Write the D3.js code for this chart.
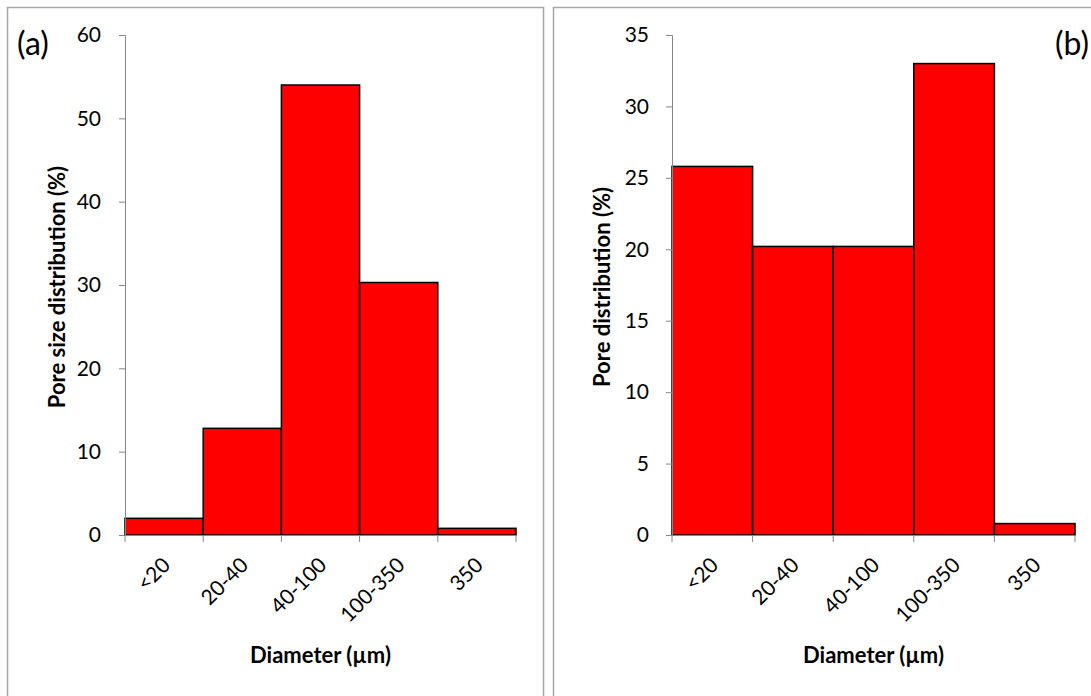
<!DOCTYPE html>
<html>
<head>
<meta charset="utf-8">
<script src="https://cdn.jsdelivr.net/npm/d3@7"></script>
<style>
  body { margin: 0; background: #fff; }
  svg { display: block; font-family: Lato, "Open Sans", sans-serif; }
</style>
</head>
<body>
<svg width="1091" height="696"></svg>
<script>
// data
var categories = ["<20", "20-40", "40-100", "100-350", "350"];
var valuesA = [2.0, 12.8, 54.0, 30.3, 0.8];
var valuesB = [25.8, 20.2, 20.2, 33.0, 0.8];
var ticksA = [0, 10, 20, 30, 40, 50, 60];
var ticksB = [0, 5, 10, 15, 20, 25, 30, 35];

var svg = d3.select("svg");
var axisColor = "#868686";

function panel(opt) {
  // frame around each chart
  svg.append("rect")
    .attr("x", opt.frame[0] + 0.5).attr("y", 7.5)
    .attr("width", opt.frame[1] - opt.frame[0]).attr("height", 700)
    .attr("fill", "none").attr("stroke", "#a6a6a6").attr("stroke-width", 1.5);

  var x = d3.scaleBand().domain(categories).range([opt.x0, opt.x1]).padding(0);
  var y = d3.scaleLinear().domain([0, opt.max]).range([535, 35]);

  var g = svg.append("g");

  g.selectAll("rect.bar").data(opt.values).enter().append("rect")
    .attr("class", "bar")
    .attr("x", function(d, i) { return x(categories[i]); })
    .attr("y", function(d) { return y(d); })
    .attr("width", x.bandwidth())
    .attr("height", function(d) { return y(0) - y(d); })
    .attr("fill", "#ff0000").attr("stroke", "#000").attr("stroke-width", 1.5);

  // y axis
  var ya = g.append("g").attr("transform", "translate(" + opt.x0 + ",0)")
    .call(d3.axisLeft(y).tickValues(opt.ticks).tickSize(6).tickPadding(opt.pad));
  ya.select(".domain").attr("stroke", axisColor).attr("d", "M-6,35.5H0.5V535.5");
  ya.selectAll(".tick line").attr("stroke", axisColor);
  ya.selectAll(".tick text").attr("font-size", 21).attr("fill", "#000").attr("font-family", "Lato, sans-serif");

  // x axis with ticks at the bin edges
  var xa = g.append("g").attr("transform", "translate(0,535)");
  xa.append("line").attr("x1", opt.x0).attr("x2", opt.x1).attr("y1", 0.5).attr("y2", 0.5).attr("stroke", axisColor);
  var edges = categories.map(function(c) { return x(c); }).concat([opt.x1]);
  xa.selectAll("line.tk").data(edges).enter().append("line")
    .attr("class", "tk")
    .attr("x1", function(d) { return d; }).attr("x2", function(d) { return d; })
    .attr("y1", 0).attr("y2", 7).attr("stroke", axisColor);
  xa.selectAll("text").data(categories).enter().append("text")
    .attr("transform", function(c) { return "translate(" + (x(c) + x.bandwidth() / 2 - 3) + ",21) rotate(-45)"; })
    .attr("text-anchor", "end").attr("dy", "0.7em")
    .attr("font-size", 21).attr("fill", "#000")
    .text(function(c) { return c; });

  // titles
  svg.append("text").attr("x", (opt.x0 + opt.x1) / 2).attr("y", 663)
    .attr("text-anchor", "middle").attr("font-size", 22).attr("font-weight", "bold")
    .text("Diameter (µm)");
  svg.append("text").attr("transform", "translate(" + opt.ylabX + ",287) rotate(-90)")
    .attr("text-anchor", "middle").attr("dy", "0.35em").attr("font-size", 22).attr("font-weight", "bold")
    .text(opt.ylab);
  svg.append("text").attr("x", opt.tagX).attr("y", 55).attr("font-size", 32)
    .text(opt.tag);
}

panel({ frame: [7, 543], x0: 125, x1: 516, max: 60, values: valuesA, ticks: ticksA, pad: 18,
  ylab: "Pore size distribution (%)", ylabX: 57, tag: "(a)", tagX: 17 });
panel({ frame: [553, 1100], x0: 672, x1: 1075, max: 35, values: valuesB, ticks: ticksB, pad: 17,
  ylab: "Pore distribution (%)", ylabX: 602, tag: "(b)", tagX: 1055 });
</script>
</body>
</html>
